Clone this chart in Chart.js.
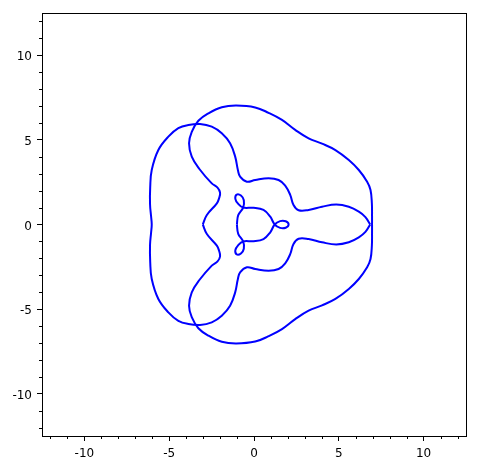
<!DOCTYPE html>
<html>
<head>
<meta charset="utf-8">
<script src="https://cdn.jsdelivr.net/npm/chart.js@4/dist/chart.umd.min.js"></script>
<style>
  body { margin: 0; background: #fff; }
  canvas { display: block; }
</style>
</head>
<body>
<canvas id="plot" width="478" height="470"></canvas>
<script>
// big loop: outer arcs top/bottom/right plus the wavy part on the left
const loopX = [-3.02, -2.78, -2.19, -2.06, -2.00, -2.15, -2.49, -3.22, -3.67, -3.83, -3.67, -3.28, -2.69, -1.90, -1.05, 0.07, 0.86, 1.65, 2.43, 3.22, 4.01, 4.80, 5.59, 6.18, 6.67, 6.87, 6.95, 6.96, 6.96,
               6.96, 6.95, 6.87, 6.67, 6.18, 5.59, 4.80, 4.01, 3.22, 2.43, 1.65, 0.86, 0.07, -1.05, -1.90, -2.69, -3.28, -3.67, -3.83, -3.67, -3.22, -2.49, -2.15, -2.00, -2.06, -2.19, -2.78, -3.02];
const loopY = [0, 0.56, 1.25, 1.55, 1.88, 2.18, 2.43, 3.28, 4.01, 4.80, 5.48, 6.13, 6.57, 6.93, 7.03, 6.92, 6.60, 6.18, 5.59, 5.09, 4.78, 4.40, 3.81, 3.22, 2.53, 2.04, 1.25, 0.50, 0,
               -0.50, -1.25, -2.04, -2.53, -3.22, -3.81, -4.40, -4.78, -5.09, -5.59, -6.18, -6.60, -6.92, -7.03, -6.93, -6.57, -6.13, -5.48, -4.80, -4.01, -3.28, -2.43, -2.18, -1.88, -1.55, -1.25, -0.56, 0];

// left petal: outer left arc plus the two inner arms meeting at the right tip
const petalX = [6.85, 6.57, 6.18, 5.59, 4.85, 4.01, 3.22, 2.63, 2.33, 2.14, 1.84, 1.45, 0.86, 0.07, -0.42, -0.82, -0.95, -1.11, -1.41, -1.90, -2.49, -3.18, -3.87, -4.46, -5.05, -5.64, -6.03, -6.12, -6.13, -6.07, -6.03,
                -6.07, -6.13, -6.12, -6.03, -5.64, -5.05, -4.46, -3.87, -3.18, -2.49, -1.90, -1.41, -1.11, -0.95, -0.82, -0.42, 0.07, 0.86, 1.45, 1.84, 2.14, 2.33, 2.63, 3.22, 4.01, 4.85, 5.59, 6.18, 6.57, 6.85];
const petalY = [0, 0.44, 0.76, 1.05, 1.18, 1.05, 0.86, 0.84, 1.15, 1.74, 2.30, 2.63, 2.73, 2.63, 2.53, 2.83, 3.22, 4.01, 4.80, 5.39, 5.78, 5.94, 5.88, 5.69, 5.19, 4.40, 3.22, 2.20, 1.20, 0.50, 0,
                -0.50, -1.20, -2.20, -3.22, -4.40, -5.19, -5.69, -5.88, -5.94, -5.78, -5.39, -4.80, -4.01, -3.22, -2.83, -2.53, -2.63, -2.73, -2.63, -2.30, -1.74, -1.15, -0.84, -0.86, -1.05, -1.18, -1.05, -0.76, -0.44, 0];

// small rounded triangle with a loop at each corner
const coreX = [-1.01, -0.93, -0.64, -0.60, -0.77, -1.02, -1.10, -0.94, -0.64, -0.03, 0.56, 0.96, 1.22, 1.54, 1.87, 2.04, 1.87, 1.54, 1.22,
               0.96, 0.56, -0.03, -0.64, -0.94, -1.10, -1.02, -0.77, -0.60, -0.64, -0.93, -1.01];
const coreY = [0, 0.55, 1.00, 1.43, 1.71, 1.77, 1.52, 1.23, 1.00, 0.99, 0.86, 0.46, 0, -0.20, -0.19, 0, 0.19, 0.20, 0,
               -0.46, -0.86, -0.99, -1.00, -1.23, -1.52, -1.77, -1.71, -1.43, -1.00, -0.55, 0];

const xTicks = [-10, -5, 0, 5, 10];
const yTicks = [-10, -5, 0, 5, 10];
const minorTicks = [-12, -11, -9, -8, -7, -6, -4, -3, -2, -1, 1, 2, 3, 4, 6, 7, 8, 9, 11, 12];

const toPoints = (xs, ys) => xs.map((x, i) => ({ x: x, y: ys[i] }));

const curve = (xs, ys) => ({
    data: toPoints(xs, ys),
    showLine: true,
    borderColor: 'rgb(0, 0, 255)',
    borderWidth: 2,
    pointRadius: 0,
    tension: 0.4,
    fill: false
});

// frame box and short minor ticks, like the sage/matplotlib axes
const framePlugin = {
    id: 'frame',
    afterDraw(chart) {
        const { ctx, chartArea: a, scales } = chart;
        ctx.save();
        ctx.strokeStyle = '#000';
        ctx.lineWidth = 1;
        ctx.strokeRect(a.left + 0.5, a.top + 0.5, a.right - a.left, a.bottom - a.top);
        ctx.beginPath();
        minorTicks.forEach(v => {
            const px = Math.round(scales.x.getPixelForValue(v)) + 0.5;
            ctx.moveTo(px, a.bottom);
            ctx.lineTo(px, a.bottom + 3);
            const py = Math.round(scales.y.getPixelForValue(v)) + 0.5;
            ctx.moveTo(a.left, py);
            ctx.lineTo(a.left - 3, py);
        });
        ctx.stroke();
        ctx.restore();
    }
};

const tickFont = { family: 'DejaVu Sans', size: 12 };

new Chart(document.getElementById('plot'), {
    type: 'scatter',
    data: {
        datasets: [curve(loopX, loopY), curve(petalX, petalY), curve(coreX, coreY)]
    },
    options: {
        responsive: false,
        animation: false,
        layout: { padding: { left: 0, top: 13, right: 12, bottom: 0 } },
        plugins: { legend: { display: false }, tooltip: { enabled: false } },
        scales: {
            x: {
                type: 'linear',
                min: -12.5,
                max: 12.5,
                afterBuildTicks: s => { s.ticks = xTicks.map(v => ({ value: v })); },
                afterFit: s => { s.height = 34; },
                ticks: { font: tickFont, color: '#000', padding: 5.5, autoSkip: false, maxRotation: 0, callback: v => String(v) },
                grid: { drawOnChartArea: false, drawTicks: true, tickLength: 5, tickColor: '#000' },
                border: { display: false }
            },
            y: {
                type: 'linear',
                min: -12.5,
                max: 12.5,
                afterBuildTicks: s => { s.ticks = yTicks.map(v => ({ value: v })); },
                afterFit: s => { s.width = 42; },
                ticks: { font: tickFont, color: '#000', padding: 5, labelOffset: 2, autoSkip: false, callback: v => String(v) },
                grid: { drawOnChartArea: false, drawTicks: true, tickLength: 5, tickColor: '#000' },
                border: { display: false }
            }
        }
    },
    plugins: [framePlugin]
});
</script>
</body>
</html>
